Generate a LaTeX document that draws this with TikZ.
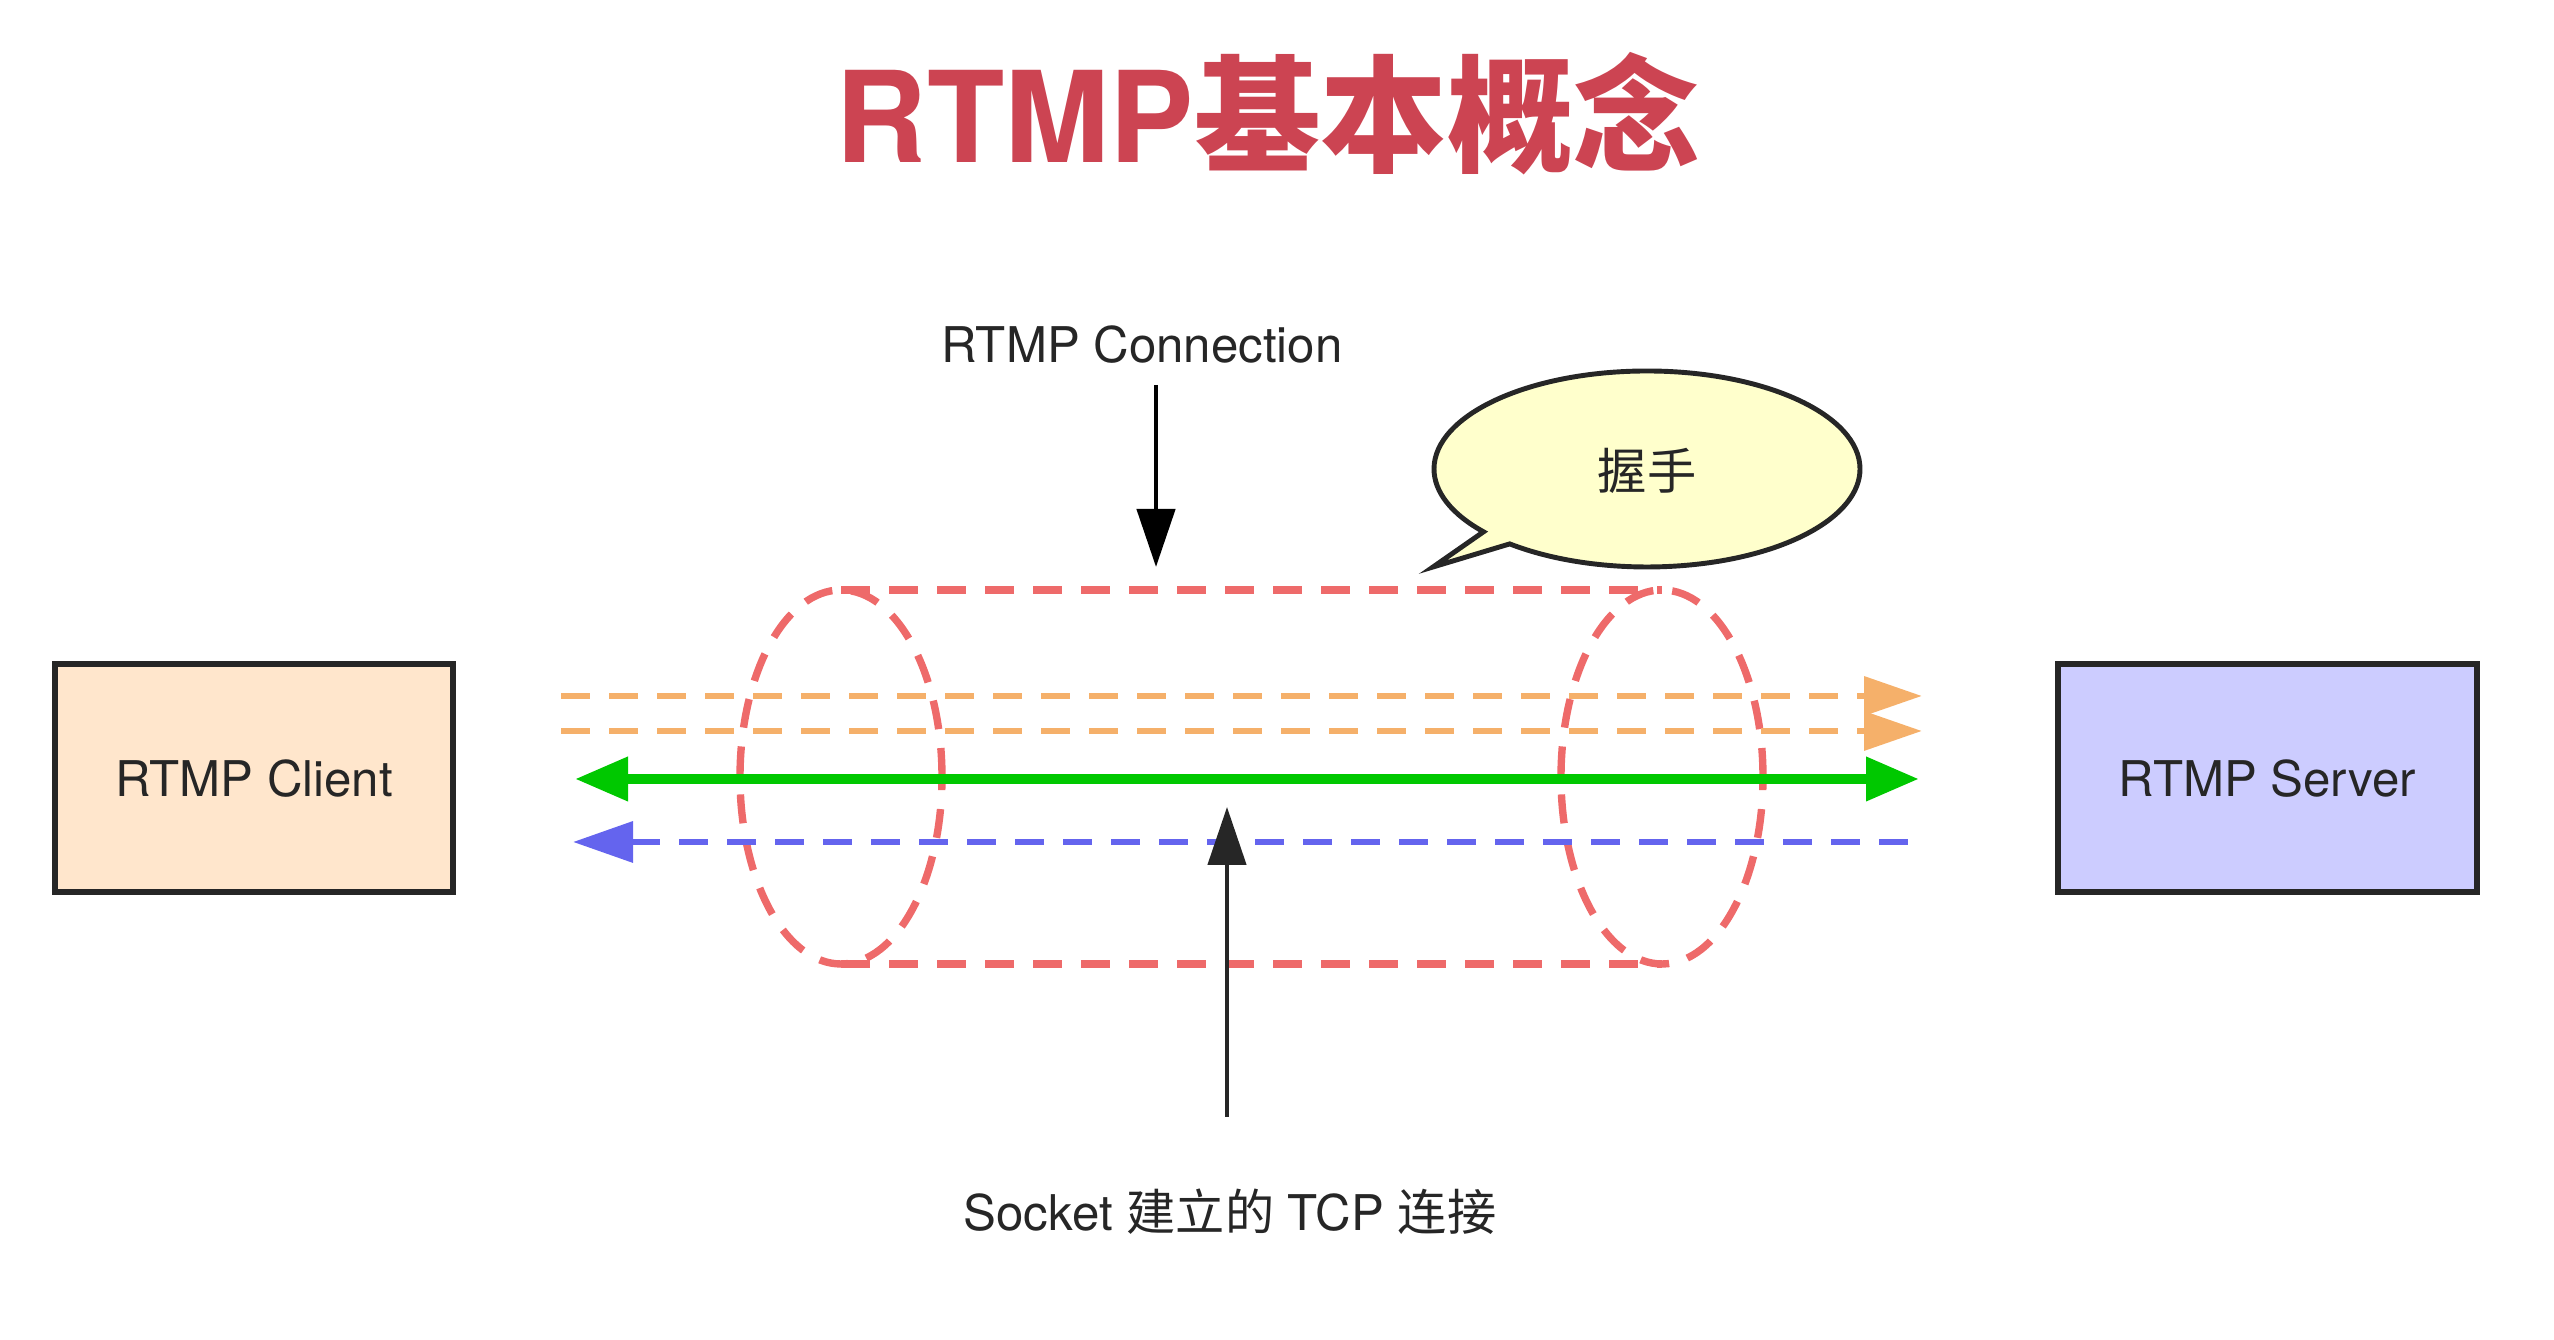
\documentclass[tikz,border=0pt]{standalone}
\usepackage{fontspec}
\setmainfont{TeX Gyre Heros}
\newfontfamily\cjk{Noto Sans CJK SC}
\usetikzlibrary{arrows.meta,shapes.callouts}
\definecolor{titlered}{HTML}{CC4452}
\definecolor{tubered}{HTML}{EE6A6A}
\definecolor{pushorange}{HTML}{F5B06A}
\definecolor{ackgreen}{HTML}{00C800}
\definecolor{pullblue}{HTML}{6464EE}
\definecolor{clientfill}{HTML}{FFE6CC}
\definecolor{serverfill}{HTML}{CCCCFF}
\definecolor{bubblefill}{HTML}{FFFFCC}

\begin{document}
\begin{tikzpicture}[line width=1.3pt,>={Triangle[length=0.58cm,width=0.38cm]},
  every node/.style={font=\fontsize{14}{16}\selectfont,text=black!85},
  box/.style={draw=black!85,line width=1.5pt,minimum height=2.28cm,text depth=-0.1cm},
  tube/.style={draw=tubered,line width=2.1pt,dash pattern=on 0.29cm off 0.19cm},
  flow/.style={line width=1.9pt,dash pattern=on 0.29cm off 0.19cm}]
\useasboundingbox (0,0) rectangle (25.54,13.40);
% ---------- title ----------
\node[font=\fontsize{36}{40}\selectfont\bfseries,text=titlered] (title) at (12.68,12.26) {RTMP{\cjk 基本概念}};
% ---------- end points ----------
\node[box,fill=clientfill,minimum width=3.98cm] (client) at (2.54,5.62) {RTMP Client};
\node[box,fill=serverfill,minimum width=4.19cm] (server) at (22.675,5.62) {RTMP Server};
% ---------- tube (connection) ----------
\draw[tube] (8.41,5.63) ellipse [x radius=1.01, y radius=1.87];
\draw[tube] (16.62,5.63) ellipse [x radius=1.01, y radius=1.87];
\draw[tube] (8.41,7.50) -- (16.62,7.50);
\draw[tube] (8.41,3.76) -- (16.62,3.76);
% ---------- streams inside the tube ----------
\foreach \yy/\nm in {6.44/a,6.09/b}{
  \coordinate (push\nm L) at (5.61,\yy);
  \coordinate (push\nm R) at (19.22,\yy);
  \draw[flow,draw=pushorange,-{Triangle[length=0.58cm,width=0.38cm]}] (push\nm L) -- (push\nm R);}
\coordinate (ackL) at (5.75,5.61);
\coordinate (ackR) at (19.19,5.61);
\draw[line width=2.9pt,draw=ackgreen,{Triangle[length=0.53cm,width=0.42cm]}-{Triangle[length=0.53cm,width=0.42cm]}] (ackL) -- (ackR);
\coordinate (pullL) at (5.73,4.98);
\coordinate (pullR) at (19.08,4.98);
\draw[flow,draw=pullblue,{Triangle[length=0.6cm,width=0.4cm]}-] (pullL) -- (pullR);
% ---------- labels ----------
\node[inner sep=2pt] (conn) at (11.42,9.95) {RTMP Connection};
\coordinate (connTail) at (11.56,9.55);
\coordinate (connTip) at (11.56,7.73);
\draw[->,black] (connTail) -- (connTip);
\node (sock) at (12.30,1.28) {Socket {\cjk 建立的} TCP {\cjk 连接}};
\coordinate (sockTail) at (12.27,2.23);
\coordinate (sockTip) at (12.27,5.33);
\draw[->,black!85] (sockTail) -- (sockTip);
\node[ellipse callout,draw=black!85,line width=1.4pt,fill=bubblefill,
  minimum width=4.26cm,minimum height=1.96cm,text depth=-0.05cm,
  callout absolute pointer={(14.33,7.73)},callout pointer arc=10] (shake) at (16.47,8.71) {\cjk 握手};
\end{tikzpicture}
\end{document}
